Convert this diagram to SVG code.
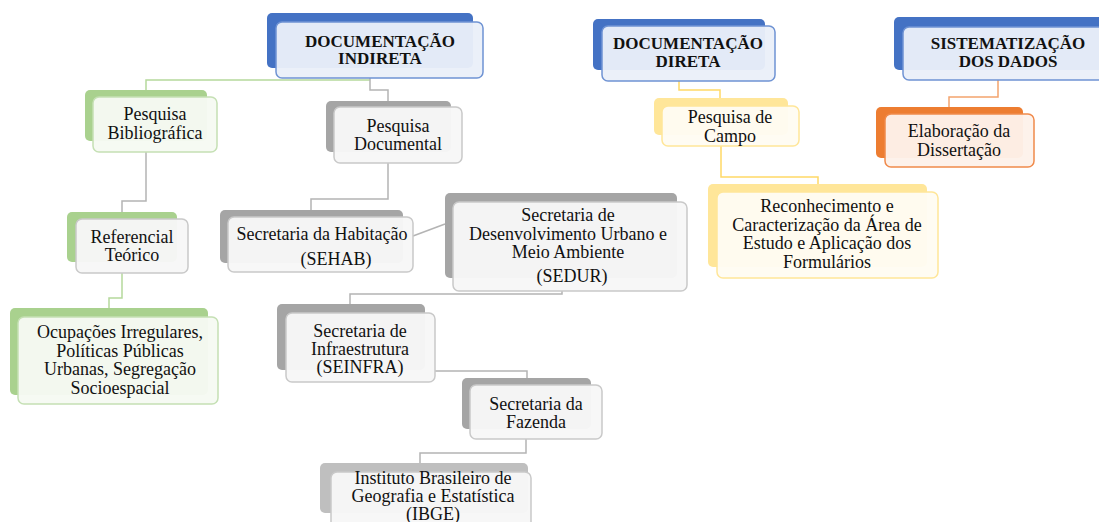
<svg xmlns="http://www.w3.org/2000/svg" width="1099" height="522" viewBox="0 0 1099 522">
  <style>
    text { font-family: "Liberation Serif", "Times New Roman", serif; font-size: 18px; fill: #111; text-anchor: middle; }
    text.hd { font-weight: bold; font-size: 17px; }
    .conn path { fill: none; stroke-width: 1.5; }
    .c-gray { stroke: #B4B4B4; }
    .c-green { stroke: #B5D99C; }
    .c-yellow { stroke: #FFD966; }
    .c-orange { stroke: #F4A46E; }
    .back { rx: 5; ry: 5; }
    .front { rx: 6; ry: 6; stroke-width: 1.5; fill-opacity: 0.96; }
    .b-blue { fill: #4472C4; }
    .f-blue { fill: #EAEFF9; stroke: #6F93D3; }
    .b-green { fill: #A9D18E; }
    .f-green { fill: #F6FAF3; stroke: #C5E0B4; }
    .b-gray { fill: #A5A5A5; }
    .b-lgray { fill: #BFBFBF; }
    .f-gray { fill: #F7F7F7; stroke: #C9C9C9; }
    .b-yellow { fill: #FFE699; }
    .f-yellow { fill: #FFFCF3; stroke: #FFE699; }
    .b-orange { fill: #ED7D31; }
    .f-orange { fill: #FDF1EA; stroke: #F08A4B; }
  </style>

  <!-- connectors -->
  <g id="connectors" class="conn">
    <path class="c-green" d="M146,90 V80 H370"/>
    <path class="c-gray" d="M370,78 V90 H388 V101"/>
    <path class="c-gray" d="M146,152 V201 H122 V212"/>
    <path class="c-green" d="M122,273 V298 H109 V308"/>
    <path class="c-gray" d="M388,163 V199 H311 V210"/>
    <path class="c-gray" d="M413,236 L445,224"/>
    <path class="c-gray" d="M562,291 V294 H350 V304"/>
    <path class="c-gray" d="M435,371 H527 V378"/>
    <path class="c-gray" d="M526,439 V453 H420 V463"/>
    <path class="c-yellow" d="M679,81 V90 H720 V98"/>
    <path class="c-yellow" d="M721,146 V177 H818 V184"/>
    <path class="c-orange" d="M998,80 V97 H949 V107"/>
  </g>

  <!-- top-level headers -->
  <g id="doc-indireta">
    <rect class="back b-blue" x="267" y="13" width="206" height="55"/>
    <rect class="front f-blue" x="276" y="22" width="207" height="56"/>
    <text class="hd" x="380" y="47">DOCUMENTAÇÃO</text>
    <text class="hd" x="380" y="64">INDIRETA</text>
  </g>

  <g id="doc-direta">
    <rect class="back b-blue" x="593" y="19" width="172" height="51"/>
    <rect class="front f-blue" x="602" y="26" width="173" height="55"/>
    <text class="hd" x="688" y="49">DOCUMENTAÇÃO</text>
    <text class="hd" x="688" y="67">DIRETA</text>
  </g>

  <g id="sistematizacao">
    <rect class="back b-blue" x="894" y="17" width="215" height="53"/>
    <rect class="front f-blue" x="903" y="27" width="210" height="53"/>
    <text class="hd" x="1008" y="49">SISTEMATIZAÇÃO</text>
    <text class="hd" x="1008" y="67">DOS DADOS</text>
  </g>

  <!-- indirect documentation branch -->
  <g id="pesquisa-bibliografica">
    <rect class="back b-green" x="85" y="90" width="122" height="51"/>
    <rect class="front f-green" x="93" y="97" width="124" height="55"/>
    <text x="155" y="120">Pesquisa</text>
    <text x="155" y="139">Bibliográfica</text>
  </g>

  <g id="referencial-teorico">
    <rect class="back b-green" x="67" y="212" width="110" height="50"/>
    <rect class="front f-gray" x="76" y="219" width="112" height="54"/>
    <text x="132" y="243">Referencial</text>
    <text x="132" y="261">Teórico</text>
  </g>

  <g id="ocupacoes">
    <rect class="back b-green" x="10" y="308" width="198" height="87"/>
    <rect class="front f-green" x="18" y="317" width="200" height="87"/>
    <text x="120" y="338">Ocupações Irregulares,</text>
    <text x="120" y="357">Políticas Públicas</text>
    <text x="120" y="375">Urbanas, Segregação</text>
    <text x="120" y="394">Socioespacial</text>
  </g>

  <g id="pesquisa-documental">
    <rect class="back b-gray" x="326" y="101" width="125" height="51"/>
    <rect class="front f-gray" x="334" y="107" width="128" height="56"/>
    <text x="398" y="132">Pesquisa</text>
    <text x="398" y="150">Documental</text>
  </g>

  <g id="sehab">
    <rect class="back b-gray" x="220" y="210" width="183" height="53"/>
    <rect class="front f-gray" x="228" y="217" width="185" height="55"/>
    <text x="322" y="240">Secretaria da Habitação</text>
    <text x="336" y="265">(SEHAB)</text>
  </g>

  <g id="sedur">
    <rect class="back b-gray" x="445" y="193" width="232" height="85"/>
    <rect class="front f-gray" x="453" y="202" width="234" height="89"/>
    <text x="568" y="221">Secretaria de</text>
    <text x="568" y="240">Desenvolvimento Urbano e</text>
    <text x="568" y="258">Meio Ambiente</text>
    <text x="572" y="282">(SEDUR)</text>
  </g>

  <g id="seinfra">
    <rect class="back b-gray" x="277" y="304" width="148" height="66"/>
    <rect class="front f-gray" x="286" y="313" width="149" height="69"/>
    <text x="360" y="337">Secretaria de</text>
    <text x="360" y="355">Infraestrutura</text>
    <text x="360" y="373">(SEINFRA)</text>
  </g>

  <g id="fazenda">
    <rect class="back b-gray" x="462" y="378" width="129" height="51"/>
    <rect class="front f-gray" x="470" y="385" width="132" height="54"/>
    <text x="536" y="410">Secretaria da</text>
    <text x="536" y="428">Fazenda</text>
  </g>

  <g id="ibge">
    <rect class="back b-lgray" x="320" y="463" width="208" height="50"/>
    <rect class="front f-gray" x="331" y="472" width="200" height="60"/>
    <text x="433" y="484">Instituto Brasileiro de</text>
    <text x="433" y="502">Geografia e Estatística</text>
    <text x="433" y="520">(IBGE)</text>
  </g>

  <!-- direct documentation branch -->
  <g id="pesquisa-campo">
    <rect class="back b-yellow" x="654" y="98" width="134" height="37"/>
    <rect class="front f-yellow" x="662" y="106" width="137" height="40"/>
    <text x="730" y="123">Pesquisa de</text>
    <text x="730" y="142">Campo</text>
  </g>

  <g id="reconhecimento">
    <rect class="back b-yellow" x="708" y="184" width="219" height="83"/>
    <rect class="front f-yellow" x="717" y="192" width="221" height="86"/>
    <text x="827" y="212">Reconhecimento e</text>
    <text x="827" y="231">Caracterização da Área de</text>
    <text x="827" y="249">Estudo e Aplicação dos</text>
    <text x="827" y="268">Formulários</text>
  </g>

  <!-- data systematisation branch -->
  <g id="elaboracao">
    <rect class="back b-orange" x="876" y="107" width="147" height="51"/>
    <rect class="front f-orange" x="885" y="114" width="149" height="53"/>
    <text x="959" y="137">Elaboração da</text>
    <text x="959" y="156">Dissertação</text>
  </g>
</svg>
